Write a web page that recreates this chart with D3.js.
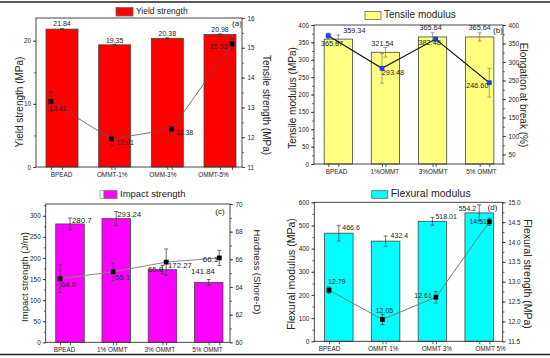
<!DOCTYPE html>
<html>
<head>
<meta charset="utf-8">
<script src="https://cdn.jsdelivr.net/npm/d3@7"></script>
<style>
  body { margin: 0; background: #fff; }
  svg { display: block; font-family: "Liberation Sans", Arial, sans-serif; }
</style>
</head>
<body>
<div id="chart"></div>
<script>
// (a) yield strength bars + tensile strength line
const catsA = ["BPEAD", "OMMT-1%", "OMM-3%", "OMMT-5%"];
const yieldStrength = [21.84, 19.35, 20.38, 20.98];
const yieldErr = [0.1, 0.1, 0.1, 0.1];
const tensileStrength = [13.2, 11.94, 12.27, 15.13];
const tensileErr = [0.33, 0.23, 0.1, 0.18];
const yieldLabels = ["21.84", "19.35", "20.38", "20.98"];
const tensileLabels = ["13.41", "12.01", "12.38", "15.53"];
const ticksA_left = [0, 10, 20];
const ticksA_right = [11, 12, 13, 14, 15, 16];

// (b) tensile modulus bars + elongation at break line
const catsB = ["BPEAD", "1%OMMT", "3%OMMT", "5% OMMT"];
const tensileModulus = [359.34, 321.54, 365.64, 365.64];
const modulusErr = [12, 14, 12, 12];
const elongation = [371, 283, 362, 244];
const elongErr = [7, 40, 5, 39];
const modulusLabels = ["359.34", "321.54", "365.64", "365.64"];
const elongLabels = ["365.67", "293.48", "382.48", "246.60"];
const ticksB_left = [0, 50, 100, 150, 200, 250, 300, 350, 400];
const ticksB_right = [50, 100, 150, 200, 250, 300, 350, 400];

// (c) impact strength bars + hardness line
const catsC = ["BPEAD", "1% OMMT", "3% OMMT", "5% OMMT"];
const impactStrength = [280.7, 293.24, 172.27, 141.84];
const impactErr = [14, 17, 10, 7];
const hardness = [64.6, 65.1, 65.8, 66.1];
const hardnessErr = [1.0, 0.65, 0.95, 0.55];
const impactLabels = ["280.7", "293.24", "172.27", "141.84"];
const hardnessLabels = ["64.6", "65.1", "65.8", "66.1"];
const ticksC_left = [0, 50, 100, 150, 200, 250, 300];
const ticksC_right = [60, 62, 64, 66, 68, 70];

// (d) flexural modulus bars + flexural strength line
const catsD = ["BPEAD", "OMMT 1%", "OMMT 3%", "OMMT 5%"];
const flexModulus = [466.6, 432.4, 518.01, 554.2];
const flexModErr = [34, 22, 17, 35];
const flexStrength = [12.79, 12.05, 12.61, 14.51];
const flexStrErr = [0.08, 0.13, 0.15, 0.09];
const flexModLabels = ["466.6", "432.4", "518.01", "554.2"];
const flexStrLabels = ["12.79", "12.05", "12.61", "14.51"];
const ticksD_left = [0, 100, 200, 300, 400, 500, 600];
const ticksD_right = [11.5, 12.0, 12.5, 13.0, 13.5, 14.0, 14.5, 15.0];

const width = 550, height = 358;
const ink = "#333";

const svg = d3.select("#chart")
  .append("svg")
  .attr("width", width)
  .attr("height", height);

// page rules top and bottom
svg.append("line").attr("x1", 0).attr("x2", width).attr("y1", 2).attr("y2", 2)
  .attr("stroke", "#222").attr("stroke-width", 1.6);
svg.append("line").attr("x1", 0).attr("x2", width).attr("y1", 354.5).attr("y2", 354.5)
  .attr("stroke", "#222").attr("stroke-width", 1.6);

function minorValues(domain, step) {
  const out = [];
  const start = Math.ceil(domain[0] / step) * step;
  for (let v = start; v <= domain[1] + 1e-9; v += step) out.push(+v.toFixed(4));
  return out;
}

function drawPanel(p) {
  const g = svg.append("g");
  const yL = d3.scaleLinear().domain(p.yLeft).range([p.bottom, p.top]);
  const yR = d3.scaleLinear().domain(p.yRight).range([p.bottom, p.top]);
  const xBar = d3.scalePoint().domain(p.cats).range(p.barRange);
  const xLine = d3.scalePoint().domain(p.cats).range(p.lineRange);
  const xTick = d3.scalePoint().domain(p.cats).range(p.tickRange);

  // bars
  g.selectAll(".bar")
    .data(p.bars)
    .enter()
    .append("rect")
    .attr("x", (d, i) => xBar(p.cats[i]) - p.barW / 2)
    .attr("y", d => yL(d))
    .attr("width", p.barW)
    .attr("height", d => p.bottom - yL(d))
    .attr("fill", p.color)
    .attr("stroke", "#444")
    .attr("stroke-width", 0.8);

  // bar error bars
  p.bars.forEach((v, i) => {
    const x = xBar(p.cats[i]);
    const y1 = yL(v + p.barErr[i]), y2 = yL(v - p.barErr[i]);
    g.append("line").attr("x1", x).attr("x2", x).attr("y1", y1).attr("y2", y2)
      .attr("stroke", p.errColor).attr("stroke-width", 0.7);
    [y1, y2].forEach(y => g.append("line").attr("x1", x - 2).attr("x2", x + 2)
      .attr("y1", y).attr("y2", y).attr("stroke", p.errColor).attr("stroke-width", 0.7));
  });

  // line + error bars + markers
  const pts = p.line.map((v, i) => [xLine(p.cats[i]), yR(v)]);
  g.append("path")
    .attr("d", d3.line()(pts))
    .attr("fill", "none")
    .attr("stroke", p.lineColor)
    .attr("stroke-width", p.lineW);

  p.line.forEach((v, i) => {
    const x = xLine(p.cats[i]);
    const y1 = yR(v + p.lineErr[i]), y2 = yR(v - p.lineErr[i]);
    g.append("line").attr("x1", x).attr("x2", x).attr("y1", y1).attr("y2", y2)
      .attr("stroke", p.errColor).attr("stroke-width", 0.7);
    [y1, y2].forEach(y => g.append("line").attr("x1", x - 2).attr("x2", x + 2)
      .attr("y1", y).attr("y2", y).attr("stroke", p.errColor).attr("stroke-width", 0.7));
  });

  g.selectAll(".pt")
    .data(pts)
    .enter()
    .append("rect")
    .attr("x", d => d[0] - 2.4)
    .attr("y", d => d[1] - 2.4)
    .attr("width", 4.8)
    .attr("height", 4.8)
    .attr("fill", p.markerColor);

  // plot frame
  g.append("rect")
    .attr("x", p.left).attr("y", p.top)
    .attr("width", p.right - p.left).attr("height", p.bottom - p.top)
    .attr("fill", "none").attr("stroke", ink).attr("stroke-width", 0.9);

  // left axis
  const la = g.append("g").attr("transform", `translate(${p.left},0)`)
    .call(d3.axisLeft(yL).tickValues(p.leftTicks).tickSize(3).tickPadding(2)
      .tickFormat(p.leftFmt));
  g.append("g").attr("transform", `translate(${p.left},0)`)
    .call(d3.axisLeft(yL).tickValues(minorValues(p.yLeft, p.leftMinor)).tickSize(1.8).tickFormat(""));

  // right axis
  const ra = g.append("g").attr("transform", `translate(${p.right},0)`)
    .call(d3.axisRight(yR).tickValues(p.rightTicks).tickSize(3).tickPadding(2.5)
      .tickFormat(p.rightFmt));
  g.append("g").attr("transform", `translate(${p.right},0)`)
    .call(d3.axisRight(yR).tickValues(minorValues(p.yRight, p.rightMinor)).tickSize(1.8).tickFormat(""));

  // bottom axis: labels, and ticks for both the bar and line positions
  const ba = g.append("g").attr("transform", `translate(0,${p.bottom})`)
    .call(d3.axisBottom(xTick).tickSize(0).tickPadding(5));
  g.append("g").attr("transform", `translate(0,${p.bottom})`)
    .call(d3.axisBottom(xBar).tickSize(3).tickFormat(""));
  g.append("g").attr("transform", `translate(0,${p.bottom})`)
    .call(d3.axisBottom(xLine).tickSize(3).tickFormat(""));

  g.selectAll(".domain").remove();
  g.selectAll(".tick line").attr("stroke", ink).attr("stroke-width", 0.8);
  [la, ra, ba].forEach(a => {
    a.attr("font-family", null);
    a.selectAll("text")
      .attr("font-size", 6.4)
      .attr("fill", "#222");
  });

  // axis titles
  g.append("text")
    .attr("transform", `translate(${p.leftTitlePos[0]},${p.leftTitlePos[1]}) rotate(-90)`)
    .attr("text-anchor", "middle").attr("dominant-baseline", "middle")
    .attr("font-size", p.titleSize).attr("fill", "#222")
    .text(p.leftTitle);
  g.append("text")
    .attr("transform", `translate(${p.rightTitlePos[0]},${p.rightTitlePos[1]}) rotate(90)`)
    .attr("text-anchor", "middle").attr("dominant-baseline", "middle")
    .attr("font-size", p.titleSize).attr("fill", "#222")
    .text(p.rightTitle);

  // value labels for bars
  p.barLabels.forEach((t, i) => {
    g.append("text")
      .attr("x", xBar(p.cats[i]) + p.barLabelDx[i])
      .attr("y", yL(p.bars[i]) + p.barLabelDy[i])
      .attr("text-anchor", p.barLabelAnchor[i])
      .attr("dominant-baseline", "middle")
      .attr("font-size", p.valueSize).attr("fill", "#222")
      .text(t);
  });
  // value labels for line points
  p.lineLabels.forEach((t, i) => {
    g.append("text")
      .attr("x", xLine(p.cats[i]) + p.lineLabelDx[i])
      .attr("y", yR(p.line[i]) + p.lineLabelDy[i])
      .attr("text-anchor", p.lineLabelAnchor[i])
      .attr("dominant-baseline", "middle")
      .attr("font-size", p.valueSize).attr("fill", "#222")
      .text(t);
  });

  // panel tag
  g.append("text")
    .attr("x", p.tagPos[0]).attr("y", p.tagPos[1])
    .attr("text-anchor", "middle").attr("dominant-baseline", "middle")
    .attr("font-size", 8).attr("fill", "#222")
    .text(p.tag);

  // legend
  const L = p.legend;
  if (L.blank) {
    g.append("rect").attr("x", L.x - 4).attr("y", L.y).attr("width", 4).attr("height", L.h)
      .attr("fill", "#fff").attr("stroke", "#999").attr("stroke-width", 0.8);
  }
  g.append("rect").attr("x", L.x).attr("y", L.y).attr("width", L.w).attr("height", L.h)
    .attr("fill", p.color).attr("stroke", "#666").attr("stroke-width", 0.8);
  g.append("text")
    .attr("x", L.x + L.w + 3).attr("y", L.y + L.h / 2)
    .attr("dominant-baseline", "middle")
    .attr("font-size", L.size).attr("fill", "#222")
    .text(L.text);
}

drawPanel({
  cats: catsA, bars: yieldStrength, barErr: yieldErr, line: tensileStrength, lineErr: tensileErr,
  barLabels: yieldLabels, lineLabels: tensileLabels,
  left: 36, right: 242, top: 18, bottom: 167,
  yLeft: [0, 23.6], yRight: [11, 16],
  leftTicks: ticksA_left, rightTicks: ticksA_right, leftMinor: 5, rightMinor: 0.5,
  leftFmt: d3.format("d"), rightFmt: d3.format("d"),
  barRange: [62, 220], lineRange: [51, 232], tickRange: [61, 213], barW: 32,
  color: "#ff0000", errColor: "#333", lineColor: "#555", lineW: 0.8, markerColor: "#000",
  leftTitle: "Yield strength (MPa)", rightTitle: "Tensile strength (MPa)",
  leftTitlePos: [20.5, 102], rightTitlePos: [266, 105], titleSize: 10, valueSize: 7,
  barLabelDx: [0, 0, 0, 0], barLabelDy: [-4.5, -4, -4, -4], barLabelAnchor: ["middle", "middle", "middle", "middle"],
  lineLabelDx: [-2, 5, 4, -4.5], lineLabelDy: [7.5, 3.8, 3.8, 3.4], lineLabelAnchor: ["start", "start", "start", "end"],
  tag: "(a)", tagPos: [237, 24],
  legend: { x: 116, y: 7.5, w: 17, h: 8.5, text: "Yield strength", size: 8.5 }
});

drawPanel({
  cats: catsB, bars: tensileModulus, barErr: modulusErr, line: elongation, lineErr: elongErr,
  barLabels: modulusLabels, lineLabels: elongLabels,
  left: 314, right: 503, top: 25, bottom: 164,
  yLeft: [0, 400], yRight: [24.3, 400],
  leftTicks: ticksB_left, rightTicks: ticksB_right, leftMinor: 25, rightMinor: 25,
  leftFmt: d3.format("d"), rightFmt: d3.format("d"),
  barRange: [338.3, 479.7], lineRange: [328.3, 489.3], tickRange: [336, 481], barW: 28.3,
  color: "#ffff80", errColor: "#777", lineColor: "#111", lineW: 1.1, markerColor: "#1f3cff",
  leftTitle: "Tensile modulus (MPa)", rightTitle: "Elongation at break (%)",
  leftTitlePos: [293, 98], rightTitlePos: [523, 95], titleSize: 10, valueSize: 7.3,
  barLabelDx: [16, -3, -2, 0], barLabelDy: [-8.5, -8.3, -8.6, -8.6], barLabelAnchor: ["middle", "middle", "middle", "middle"],
  lineLabelDx: [3.7, 11, -6, -12], lineLabelDy: [8, 4.4, 4.5, 3.3], lineLabelAnchor: ["middle", "middle", "middle", "middle"],
  tag: "(b)", tagPos: [498, 30.7],
  legend: { x: 365, y: 11.5, w: 16, h: 8, text: "Tensile modulus", size: 10 }
});

drawPanel({
  cats: catsC, bars: impactStrength, barErr: impactErr, line: hardness, lineErr: hardnessErr,
  barLabels: impactLabels, lineLabels: hardnessLabels,
  left: 45.7, right: 230, top: 204, bottom: 342.3,
  yLeft: [0, 328], yRight: [60, 70],
  leftTicks: ticksC_left, rightTicks: ticksC_right, leftMinor: 25, rightMinor: 1,
  leftFmt: d3.format("d"), rightFmt: d3.format("d"),
  barRange: [70, 208.7], lineRange: [60, 219.3], tickRange: [64, 207], barW: 28.5,
  color: "#ff00ff", errColor: "#333", lineColor: "#888", lineW: 1, markerColor: "#000",
  leftTitle: "Impact strength (J/m)", rightTitle: "Hardness (Shore-D)",
  leftTitlePos: [25, 277], rightTitlePos: [257, 272], titleSize: 9.5, valueSize: 7.8,
  barLabelDx: [2, 1, 5.5, -5.7], barLabelDy: [-3, -3.6, -3.6, -11], barLabelAnchor: ["start", "start", "start", "middle"],
  lineLabelDx: [1, 1.7, -3, -1.3], lineLabelDy: [6.7, 6.6, 7.4, 2], lineLabelAnchor: ["start", "start", "end", "end"],
  tag: "(c)", tagPos: [220, 211.7],
  legend: { x: 104, y: 190.7, w: 13, h: 7.6, text: "Impact strength", size: 9.5, blank: true }
});

drawPanel({
  cats: catsD, bars: flexModulus, barErr: flexModErr, line: flexStrength, lineErr: flexStrErr,
  barLabels: flexModLabels, lineLabels: flexStrLabels,
  left: 314.3, right: 502.7, top: 202.3, bottom: 341.3,
  yLeft: [0, 600], yRight: [11.5, 15],
  leftTicks: ticksD_left, rightTicks: ticksD_right, leftMinor: 50, rightMinor: 0.25,
  leftFmt: d3.format("d"), rightFmt: d3.format(".1f"),
  barRange: [338.8, 479.2], lineRange: [329, 489.3], tickRange: [329, 490], barW: 28.5,
  color: "#00ffff", errColor: "#333", lineColor: "#777", lineW: 1, markerColor: "#000",
  leftTitle: "Flexural modulus (MPa)", rightTitle: "Flexural strength (MPa)",
  leftTitlePos: [292.3, 274], rightTitlePos: [527, 274], titleSize: 10.5, valueSize: 7,
  barLabelDx: [3.5, 5, 3, -3], barLabelDy: [-5, -5, -4.6, -3.6], barLabelAnchor: ["start", "start", "start", "end"],
  lineLabelDx: [-1, 2, -4, -2.3], lineLabelDy: [-7.7, -8.3, -1, 0.6], lineLabelAnchor: ["start", "middle", "end", "end"],
  tag: "(d)", tagPos: [492.5, 207.7],
  legend: { x: 371.7, y: 190.7, w: 16, h: 7.6, text: "Flexural modulus", size: 10.5 }
});
</script>
</body>
</html>
